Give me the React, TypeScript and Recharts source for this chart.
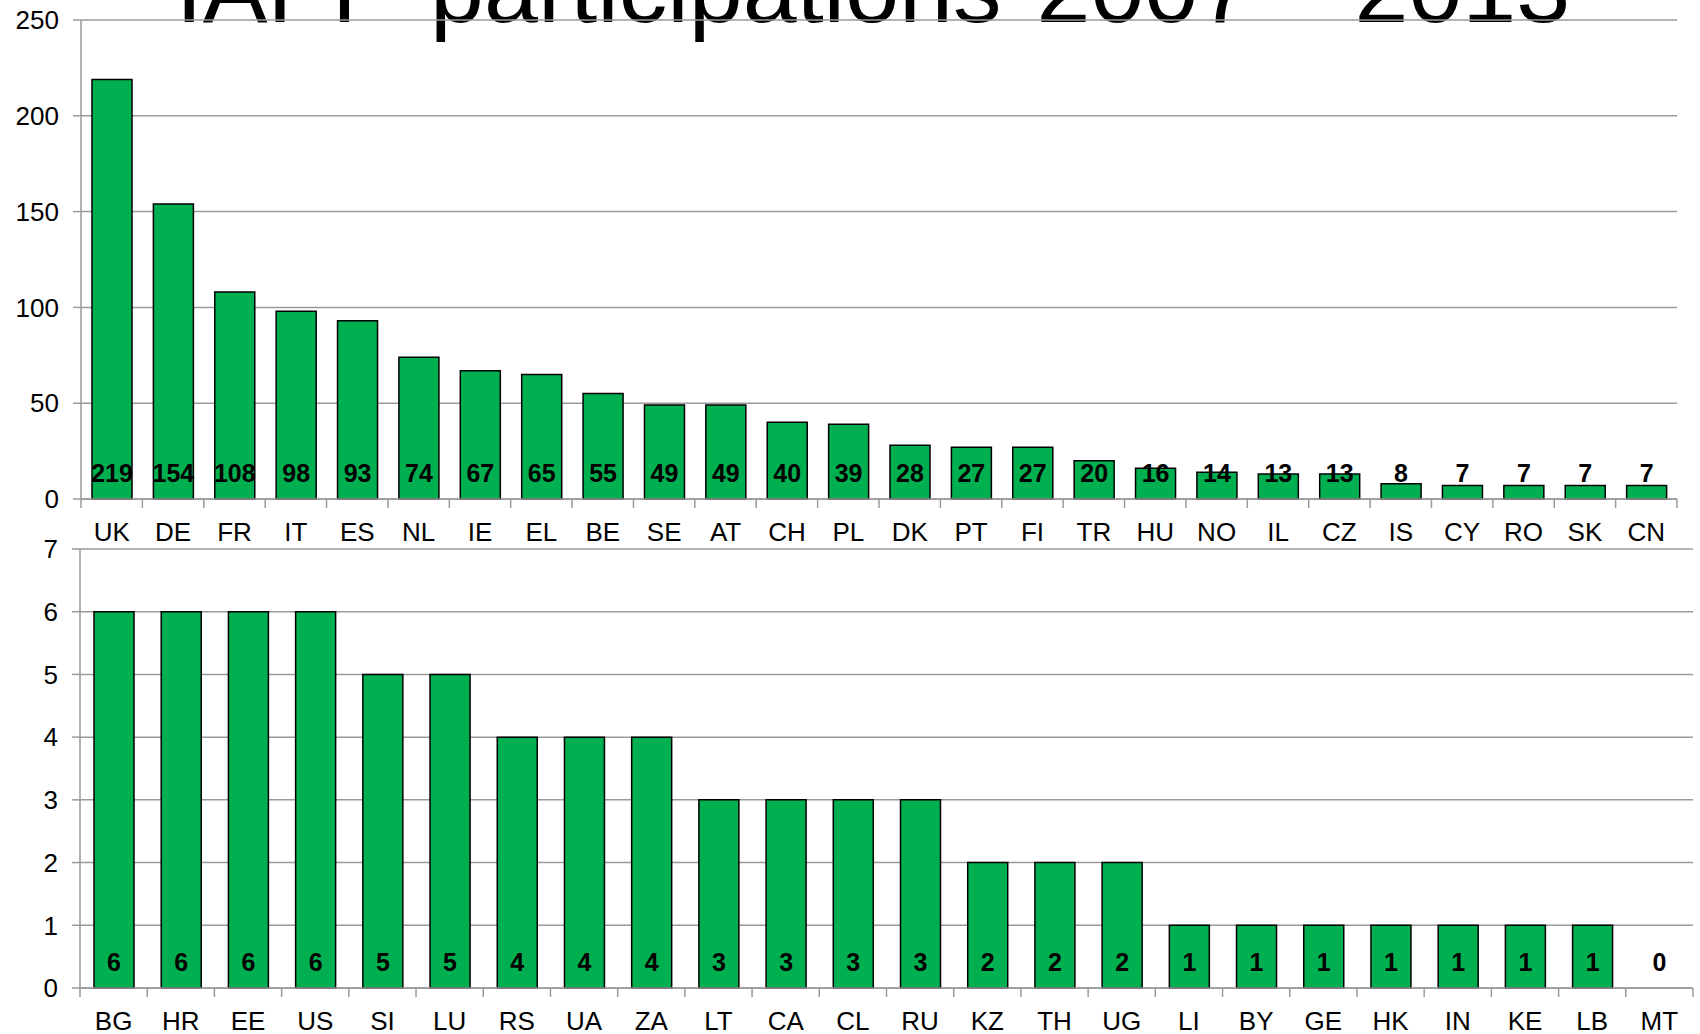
import React from "react";
import { BarChart, Bar, XAxis, YAxis, CartesianGrid, LabelList } from "recharts";

const titleText = "IAPP participations 2007 - 2013";

const topCountries = ["UK", "DE", "FR", "IT", "ES", "NL", "IE", "EL", "BE", "SE", "AT", "CH", "PL", "DK", "PT", "FI", "TR", "HU", "NO", "IL", "CZ", "IS", "CY", "RO", "SK", "CN"];
const topValues = [219, 154, 108, 98, 93, 74, 67, 65, 55, 49, 49, 40, 39, 28, 27, 27, 20, 16, 14, 13, 13, 8, 7, 7, 7, 7];
const topTicks = [0, 50, 100, 150, 200, 250];

const bottomCountries = ["BG", "HR", "EE", "US", "SI", "LU", "RS", "UA", "ZA", "LT", "CA", "CL", "RU", "KZ", "TH", "UG", "LI", "BY", "GE", "HK", "IN", "KE", "LB", "MT"];
const bottomValues = [6, 6, 6, 6, 5, 5, 4, 4, 4, 3, 3, 3, 3, 2, 2, 2, 1, 1, 1, 1, 1, 1, 1, 0];
const bottomTicks = [0, 1, 2, 3, 4, 5, 6, 7];

const topData = topCountries.map((c, i) => ({ name: c, value: topValues[i] }));
const bottomData = bottomCountries.map((c, i) => ({ name: c, value: bottomValues[i] }));

const FONT = "'Liberation Sans', Arial, sans-serif";
const GRID = "#9a9a9a";
const GREEN = "#00b050";
const TICK_OFFSET = 24;
const LABEL_RISE = 17;

const labelText = (x: number, y: number, value: any) => (
  <text x={x} y={y} textAnchor="middle" fontSize={25} fontWeight="bold" fontFamily={FONT} fill="#000">
    {value}
  </text>
);

const makeXTick = (band: number, values: number[]) => (props: any) => {
  const { x, y, payload, index } = props;
  const axisY = y - TICK_OFFSET;
  const count = values.length;
  return (
    <g>
      <line x1={x - band / 2} x2={x - band / 2} y1={axisY} y2={axisY + 9} stroke={GRID} strokeWidth={1.5} />
      {index === count - 1 && (
        <line x1={x + band / 2} x2={x + band / 2} y1={axisY} y2={axisY + 9} stroke={GRID} strokeWidth={1.5} />
      )}
      <text x={x} y={y} dy="0.71em" textAnchor="middle" fontSize={26} fontFamily={FONT} fill="#000">
        {payload.value}
      </text>
      {values[index] === 0 && labelText(x, axisY - LABEL_RISE, values[index])}
    </g>
  );
};

const baseLabel = (props: any) => {
  const { x, y, width, height, value } = props;
  if (value === 0) return null;
  const bottom = Number(y) + Number(height);
  return labelText(Number(x) + Number(width) / 2, bottom - LABEL_RISE, value);
};

const yTickStyle = { fontSize: 26, fontFamily: FONT, fill: "#000" };

export default function App() {
  const topBand = (1677 - 81) / topCountries.length;
  const bottomBand = (1693 - 80) / bottomCountries.length;
  return (
    <div style={{ position: "fixed", left: 0, top: 0, width: 1700, height: 1034, overflow: "hidden", background: "#fff" }}>
      <svg width={1700} height={120} style={{ position: "absolute", left: 0, top: 0 }}>
        <text x={873} y={22} textAnchor="middle" fontSize={97} fontFamily={FONT} fill="#000" wordSpacing={8}>
          {titleText}
        </text>
      </svg>
      <div style={{ position: "absolute", left: 0, top: 0 }}>
        <BarChart width={1700} height={545} data={topData} margin={{ top: 20, right: 23, bottom: 6, left: 0 }}>
          <CartesianGrid vertical={false} stroke={GRID} strokeWidth={1.5} />
          <XAxis
            dataKey="name"
            interval={0}
            height={40}
            tickLine={false}
            tickSize={0}
            tickMargin={TICK_OFFSET}
            axisLine={{ stroke: GRID, strokeWidth: 1.5 }}
            tick={makeXTick(topBand, topValues)}
          />
          <YAxis
            width={81}
            domain={[0, 250]}
            ticks={topTicks}
            interval={0}
            tickSize={8}
            tickMargin={14}
            axisLine={{ stroke: GRID, strokeWidth: 1.5 }}
            tickLine={{ stroke: GRID, strokeWidth: 1.5 }}
            tick={yTickStyle}
          />
          <Bar dataKey="value" fill={GREEN} stroke="#000" strokeWidth={1.5} barSize={40} isAnimationActive={false}>
            <LabelList dataKey="value" content={baseLabel} />
          </Bar>
        </BarChart>
      </div>
      <div style={{ position: "absolute", left: 0, top: 540 }}>
        <BarChart width={1700} height={494} data={bottomData} margin={{ top: 9, right: 7, bottom: 6, left: 0 }}>
          <CartesianGrid vertical={false} stroke={GRID} strokeWidth={1.5} />
          <XAxis
            dataKey="name"
            interval={0}
            height={40}
            tickLine={false}
            tickSize={0}
            tickMargin={TICK_OFFSET}
            axisLine={{ stroke: GRID, strokeWidth: 1.5 }}
            tick={makeXTick(bottomBand, bottomValues)}
          />
          <YAxis
            width={80}
            domain={[0, 7]}
            ticks={bottomTicks}
            interval={0}
            tickSize={8}
            tickMargin={14}
            axisLine={{ stroke: GRID, strokeWidth: 1.5 }}
            tickLine={{ stroke: GRID, strokeWidth: 1.5 }}
            tick={yTickStyle}
          />
          <Bar dataKey="value" fill={GREEN} stroke="#000" strokeWidth={1.5} barSize={40} isAnimationActive={false}>
            <LabelList dataKey="value" content={baseLabel} />
          </Bar>
        </BarChart>
      </div>
    </div>
  );
}
